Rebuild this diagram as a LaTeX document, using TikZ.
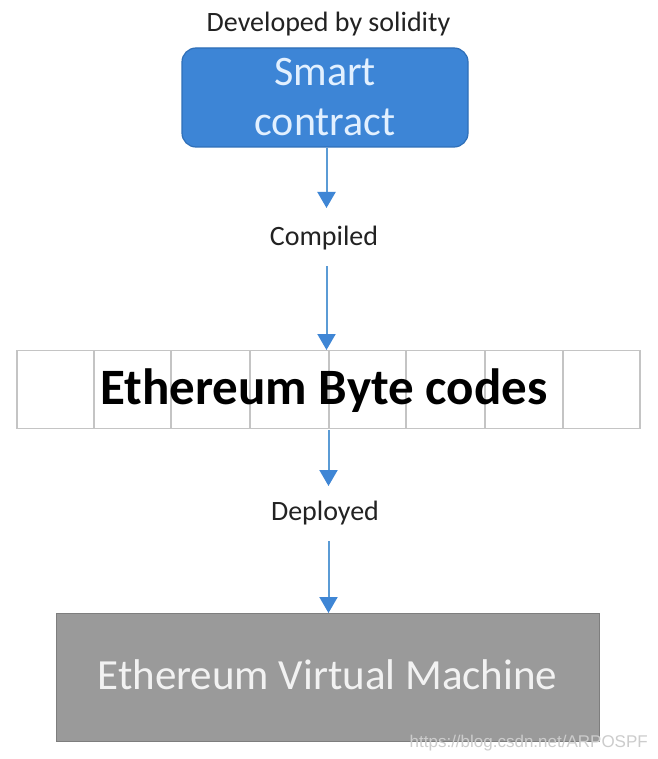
\documentclass[tikz,border=0pt]{standalone}
\usepackage{fontspec}
\setmainfont{Carlito}
\newfontfamily\wmfont{Liberation Sans}
\usetikzlibrary{arrows.meta,positioning}
\definecolor{scblue}{HTML}{3D85D6}
\definecolor{scborder}{HTML}{2F6FB8}
\definecolor{sctext}{HTML}{E2F0FF}
\definecolor{arrowblue}{HTML}{5B9BD5}
\definecolor{tipblue}{HTML}{3F86D5}
\definecolor{cellgray}{HTML}{C4C4C4}
\definecolor{evmfill}{HTML}{9A9A9A}
\definecolor{evmborder}{HTML}{7E7E7E}
\definecolor{evmtext}{HTML}{F2F2F2}
\definecolor{labeltext}{HTML}{222222}
\tikzset{
  flowarrow/.style={draw=arrowblue, line width=2pt, -{Triangle[width=18pt,length=16pt,fill=tipblue,color=tipblue]}},
  labeltxt/.style={font=\fontsize{28}{30}\selectfont, text=labeltext, inner sep=0pt, anchor=base},
  cellbox/.style={draw=cellgray, line width=1.5pt, fill=white, inner sep=0pt, anchor=south west},
}
\begin{document}
\begin{tikzpicture}[x=1pt,y=-1pt]
\useasboundingbox (0,0) rectangle (657,759);
\fill[white] (0,0) rectangle (657,759);

% top label
\node[labeltxt] (dev) at (328.5,32) {Developed by solidity};

% smart contract box
\node[draw=scborder, line width=1.2pt, fill=scblue, rounded corners=14pt,
      minimum width=286pt, minimum height=99pt, inner sep=0pt,
      text=sctext, align=center,
      font=\fontsize{42}{50}\selectfont] (sc) at (325,97.5) {Smart\\contract};

% compiled label
\node[labeltxt] (comp) at (324,245) {Compiled};
\coordinate (a1end) at (326.5,208);
\coordinate (a1start) at (sc.south -| a1end);
\coordinate (a2start) at (326.5,266);
\coordinate (a2end) at (326.5,350);

% byte code cells
\foreach \i/\xa/\xb in {1/16/93, 2/93/170, 3/170/249, 4/249/328, 5/328/405, 6/405/484, 7/484/562, 8/562/639}{
  \node[cellbox, minimum width={\xb-\xa}, minimum height=78pt] (cell\i) at (\xa,429) {};
}
\node[font=\bfseries\fontsize{51}{56}\selectfont, text=black, inner sep=0pt, anchor=base] (bytes) at (324,404) {Ethereum Byte codes};

% deployed label
\node[labeltxt] (depl) at (325,520) {Deployed};
\coordinate (b1start) at (328.5,429.8);
\coordinate (b1end) at (328.5,486);
\coordinate (b2start) at (328.5,541);
\coordinate (b2end) at (328.5,613);

% EVM box
\node[draw=evmborder, line width=1.5pt, fill=evmfill, minimum width=543pt, minimum height=128pt, inner sep=0pt] (evm) at (328,677.5) {};
\node[font=\fontsize{43}{48}\selectfont, text=evmtext, inner sep=0pt, anchor=base] (evmtxt) at (327.5,689) {Ethereum Virtual Machine};

% arrows
\draw[flowarrow] (a1start) -- (a1end);
\draw[flowarrow] (a2start) -- (a2end);
\draw[flowarrow] (b1start) -- (b1end);
\draw[flowarrow] (b2start) -- (b2end);

% watermark
\node[font=\wmfont\fontsize{17}{19}\selectfont, text=white!80!black, inner sep=0pt, anchor=base east] (wm) at (648,747) {https://blog.csdn.net/ARPOSPF};
\end{tikzpicture}
\end{document}
